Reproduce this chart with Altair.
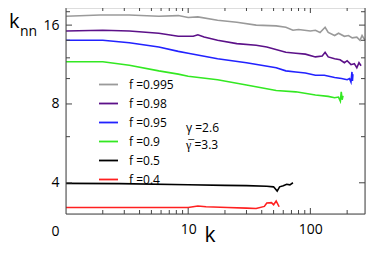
import altair as alt
import pandas as pd

FONT = "Open Sans"

f_labels = ["f =0.995", "f =0.98", "f =0.95", "f =0.9", "f =0.5", "f =0.4"]
colors = ["#9a9a9a", "#5c1189", "#2222ff", "#33e822", "#000000", "#ff2020"]

k_995 = [1, 1.9, 3.3, 5.75, 8.3, 10, 12, 17.4, 25, 36, 52.5, 63, 72, 80, 100, 110, 120, 132, 140, 158, 170, 190, 205, 220, 240, 255, 265, 280]
knn_995 = [17.3, 17.5, 17.5, 17.3, 17.4, 17.1, 17.2, 16.7, 16.4, 16.0, 15.9, 15.7, 15.3, 15.4, 15.2, 15.3, 15.0, 15.7, 15.0, 14.6, 14.9, 14.5, 14.6, 14.3, 14.4, 14.0, 14.6, 14.0]

k_98 = [1, 2, 3.3, 5.75, 8.3, 11, 12, 13.5, 17.4, 25, 36, 44, 63, 76, 91, 110, 125, 132, 140, 158, 175, 190, 200, 215, 229, 240, 250, 260]
knn_98 = [15.2, 15.3, 15.2, 14.9, 14.5, 14.5, 14.7, 14.4, 14.0, 13.6, 13.4, 13.2, 12.6, 12.5, 12.4, 12.1, 12.2, 12.6, 12.1, 11.9, 11.8, 11.5, 11.7, 11.3, 11.4, 11.0, 11.5, 11.2]

k_95 = [1, 2, 3.3, 5.75, 8.3, 10, 17.4, 30, 52.5, 63, 76, 91, 110, 130, 158, 180, 200, 209, 215, 219, 221, 223]
knn_95 = [14.0, 14.0, 13.7, 13.2, 12.7, 12.5, 11.9, 11.5, 11.0, 10.7, 10.6, 10.5, 10.3, 10.3, 10.1, 10.0, 9.9, 10.0, 9.7, 10.6, 9.8, 10.4]

k_90 = [1, 2, 3.3, 5.75, 8.3, 10, 17.4, 30, 52.5, 76, 110, 140, 158, 170, 176, 179, 182, 185]
knn_90 = [11.6, 11.6, 11.25, 10.7, 10.4, 10.2, 9.9, 9.45, 9.0, 8.9, 8.65, 8.55, 8.45, 8.5, 8.2, 8.9, 8.3, 8.6]

k_50 = [1, 2.75, 10, 20, 30, 44, 50, 53.5, 56, 60, 64, 68, 72]
knn_50 = [3.98, 3.97, 3.93, 3.91, 3.9, 3.88, 3.86, 3.72, 3.86, 3.9, 3.95, 3.93, 4.0]

k_40 = [1, 10, 12, 14, 21, 30, 36, 42, 44, 48, 50, 52.5, 55.5]
knn_40 = [3.22, 3.22, 3.26, 3.24, 3.22, 3.2, 3.19, 3.25, 3.35, 3.36, 3.3, 3.41, 3.24]

x_major = [10, 100]
x_minor = [2, 3, 4, 5, 6, 7, 8, 9, 20, 30, 40, 50, 60, 70, 80, 90, 200]
y_major = [4, 8, 16]
y_minor = [6, 10, 12, 14, 18]

series = [(k_995, knn_995), (k_98, knn_98), (k_95, knn_95),
          (k_90, knn_90), (k_50, knn_50), (k_40, knn_40)]
rows = []
for lab, (ks, vs) in zip(f_labels, series):
    for k, v in zip(ks, vs):
        rows.append({"f": lab, "k": k, "knn": v})
df = pd.DataFrame(rows)

W, H = 299, 206
xs = alt.Scale(type="log", domain=[1, 280], nice=False)
ys = alt.Scale(type="log", domain=[3.04, 18.6], nice=False)

AX = alt.Axis(values=x_major, format="d", ticks=False, domain=False, grid=False,
              labelFontSize=14, labelPadding=8, title=None, labelFont=FONT,
              labelColor="black")
AY = alt.Axis(values=y_major, format="d", ticks=False, domain=False, grid=False,
              labelFontSize=14, labelPadding=7, title=None, labelFont=FONT,
              labelColor="black")

lines = alt.Chart(df).mark_line(strokeWidth=1.6).encode(
    x=alt.X("k:Q", scale=xs, axis=AX),
    y=alt.Y("knn:Q", scale=ys, axis=AY),
    color=alt.Color("f:N", sort=f_labels,
                    scale=alt.Scale(domain=f_labels, range=colors),
                    legend=alt.Legend(orient="none", legendX=32, legendY=66, title=None,
                                      symbolType="stroke", symbolSize=360,
                                      symbolStrokeWidth=1.8, labelFontSize=12,
                                      labelFont=FONT, labelOffset=10, rowPadding=2,
                                      padding=0, labelColor="black")),
)

xmaj = pd.DataFrame({"k": x_major})
xmin = pd.DataFrame({"k": x_minor})
ymaj = pd.DataFrame({"knn": y_major})
ymin = pd.DataFrame({"knn": y_minor})
TC = "#444444"

def xticks(d, y0, y1):
    return alt.Chart(d).mark_rule(color=TC, strokeWidth=1).encode(
        x=alt.X("k:Q", scale=xs, axis=AX), y=alt.value(y0), y2=alt.value(y1))

def yticks(d, x0, x1):
    return alt.Chart(d).mark_rule(color=TC, strokeWidth=1).encode(
        y=alt.Y("knn:Q", scale=ys, axis=AY), x=alt.value(x0), x2=alt.value(x1))

ticks = [
    xticks(xmaj, H, H - 6), xticks(xmin, H, H - 4),
    xticks(xmaj, 0, 5), xticks(xmin, 0, 3),
    yticks(ymaj, 0, 6), yticks(ymin, 0, 4),
    yticks(ymaj, W, W - 6), yticks(ymin, W, W - 4),
]

one = pd.DataFrame({"a": [0]})
border = [
    alt.Chart(one).mark_rule(color=TC).encode(x=alt.value(0), y=alt.value(0), y2=alt.value(H)),
    alt.Chart(one).mark_rule(color=TC).encode(x=alt.value(W), y=alt.value(0), y2=alt.value(H)),
    alt.Chart(one).mark_rule(color=TC).encode(x=alt.value(0), x2=alt.value(W), y=alt.value(H)),
]

def txt(s, x, y, size, align="left", baseline="alphabetic"):
    return alt.Chart(one).mark_text(text=s, fontSize=size, font=FONT, align=align,
                                    baseline=baseline, color="black").encode(
        x=alt.value(x), y=alt.value(y))

texts = [
    txt("k", -57, 20, 20),
    txt("nn", -46, 28, 14),
    txt("0", -10.5, 224, 14, align="center", baseline="middle"),
    txt("k", 144, 234, 21, align="center"),
    txt("γ =2.6", 120, 124, 12),
    txt("γ\u0305 =3.3", 120, 141, 12),
]

chart = alt.layer(lines, *ticks, *border, *texts).properties(
    width=W, height=H,
    autosize=alt.AutoSizeParams(type="none"),
    padding={"left": 58, "top": 0, "right": 1, "bottom": 35},
).configure_view(stroke=None).configure(font=FONT)

chart.save("out.html", embed_options={"renderer": "svg", "actions": False})
